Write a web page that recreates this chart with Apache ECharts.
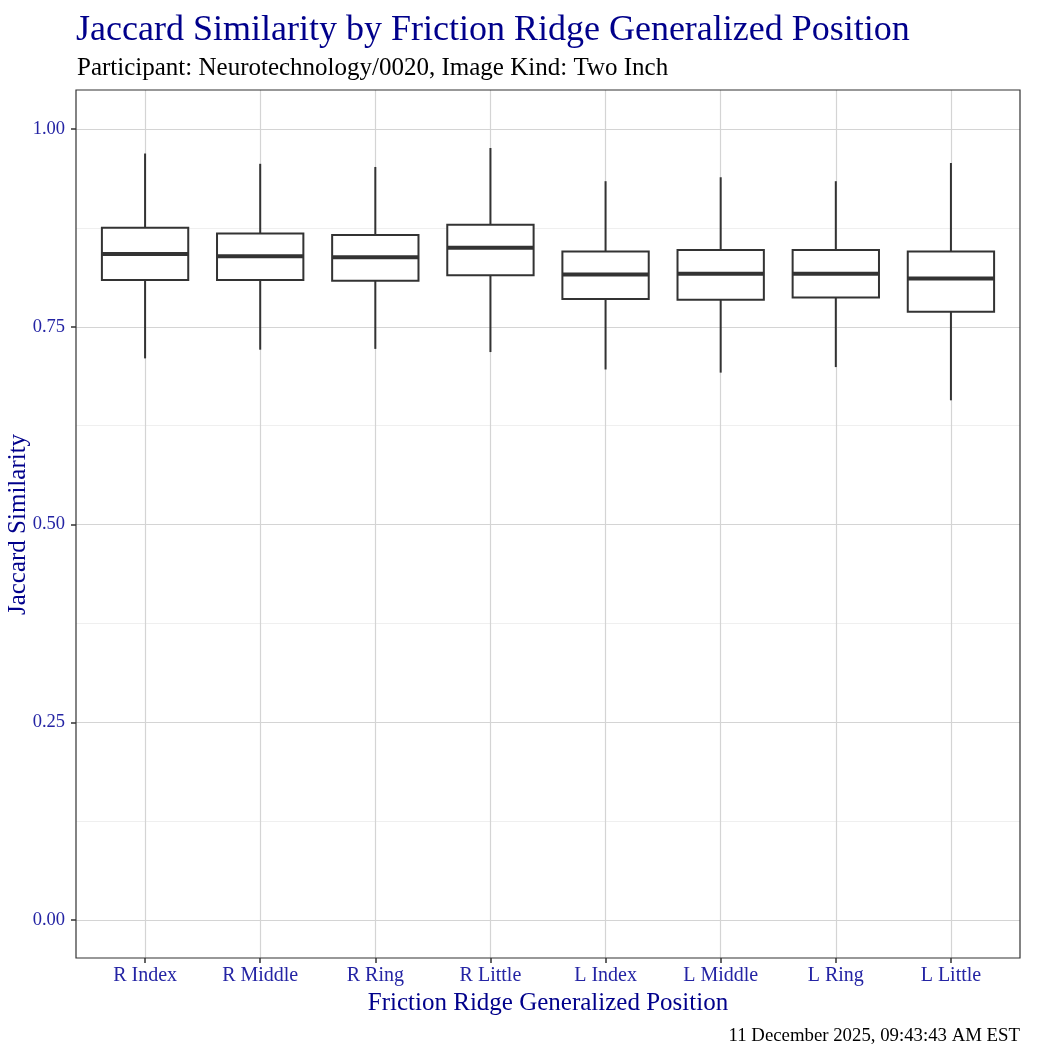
<!DOCTYPE html>
<html lang="en">
<head>
    <meta charset="UTF-8">
    <title>Jaccard Similarity</title>
    <script src="https://cdn.jsdelivr.net/npm/echarts@6/dist/echarts.min.js"></script>
    <style>
        html, body { margin: 0; padding: 0; background: #fff; }
        #chart { width: 1050px; height: 1050px; }
    </style>
</head>
<body>
    <div id="chart"></div>
    <script>
        // finger positions on the x axis
        const positions = ['R Index', 'R Middle', 'R Ring', 'R Little', 'L Index', 'L Middle', 'L Ring', 'L Little'];
        // box statistics
        const whiskerLow = [0.710, 0.721, 0.722, 0.718, 0.696, 0.692, 0.699, 0.657];
        const q1 = [0.809, 0.809, 0.808, 0.815, 0.785, 0.784, 0.787, 0.769];
        const median = [0.842, 0.839, 0.838, 0.850, 0.816, 0.817, 0.817, 0.811];
        const q3 = [0.875, 0.868, 0.866, 0.879, 0.845, 0.847, 0.847, 0.845];
        const whiskerHigh = [0.969, 0.956, 0.952, 0.976, 0.934, 0.939, 0.934, 0.957];
        const yTicks = [0, 0.25, 0.5, 0.75, 1];

        const font = "'Liberation Serif', 'DejaVu Serif', serif";
        const blue = '#00008B';
        const tickBlue = '#2424a4';

        const boxData = positions.map((p, i) => [i, whiskerLow[i], q1[i], median[i], q3[i], whiskerHigh[i]]);

        function renderBox(params, api) {
            const x = api.value(0);
            const lo = api.coord([x, api.value(1)]);
            const b1 = api.coord([x, api.value(2)]);
            const md = api.coord([x, api.value(3)]);
            const b3 = api.coord([x, api.value(4)]);
            const hi = api.coord([x, api.value(5)]);
            const w = api.size([1, 0])[0] * 0.75;
            const cx = lo[0];
            const stroke = { stroke: '#333333', lineWidth: 2 };
            return {
                type: 'group',
                children: [
                    { type: 'line', shape: { x1: cx, y1: hi[1], x2: cx, y2: b3[1] }, style: stroke },
                    { type: 'line', shape: { x1: cx, y1: b1[1], x2: cx, y2: lo[1] }, style: stroke },
                    { type: 'rect', shape: { x: cx - w / 2, y: b3[1], width: w, height: b1[1] - b3[1] },
                      style: { fill: '#ffffff', stroke: '#333333', lineWidth: 2 } },
                    { type: 'line', shape: { x1: cx - w / 2, y1: md[1], x2: cx + w / 2, y2: md[1] },
                      style: { stroke: '#333333', lineWidth: 4 } }
                ]
            };
        }

        const chart = echarts.init(document.getElementById('chart'));
        const option = {
            backgroundColor: '#ffffff',
            animation: false,
            title: [{
                text: 'Jaccard Similarity by Friction Ridge Generalized Position',
                left: 71, top: 8,
                textStyle: { fontFamily: font, fontWeight: 'normal', fontSize: 36, color: blue }
            }, {
                text: 'Participant: Neurotechnology/0020, Image Kind: Two Inch',
                left: 72, top: 51,
                textStyle: { fontFamily: font, fontWeight: 'normal', fontSize: 25, color: '#000' }
            }, {
                text: '11 December 2025, 09:43:43 AM EST',
                right: 25, top: 1022,
                textStyle: { fontFamily: font, fontWeight: 'normal', fontSize: 18.8, color: '#000' }
            }],
            grid: [
                // y scale: 0 -> 920px, 1 -> 129px
                { left: 76, right: 30, top: 129, bottom: 130, outerBoundsMode: 'none', containLabel: false },
                // boxes: full panel with ggplot's 0.6 discrete expansion
                { left: 87.51, right: 41.51, top: 90, bottom: 92, outerBoundsMode: 'none', containLabel: false }
            ],
            xAxis: [{
                gridIndex: 0, type: 'value', show: false, min: 0, max: 1
            }, {
                gridIndex: 1, type: 'category', data: positions,
                position: 'bottom',
                boundaryGap: true,
                axisLine: { show: false, onZero: false },
                axisTick: { show: true, alignWithLabel: true, length: 5, lineStyle: { color: '#333', width: 1.5 } },
                axisLabel: { fontFamily: font, fontSize: 20, color: tickBlue, margin: 8 },
                splitLine: { show: true, alignWithLabel: true, lineStyle: { color: '#d4d4d4', width: 1.2 } },
                name: 'Friction Ridge Generalized Position',
                nameLocation: 'middle', nameGap: 33, nameMoveOverlap: false,
                nameTextStyle: { fontFamily: font, fontSize: 25, color: blue }
            }],
            yAxis: [{
                gridIndex: 0, type: 'value', min: 0, max: 1, interval: 0.25,
                position: 'left',
                axisLine: { show: false, onZero: false },
                axisTick: { show: true, length: 5, lineStyle: { color: '#333', width: 1.5 } },
                axisLabel: {
                    fontFamily: font, fontSize: 18.5, color: tickBlue, margin: 11,
                    formatter: v => yTicks.includes(v) ? v.toFixed(2) : ''
                },
                splitLine: { show: true, lineStyle: { color: '#d4d4d4', width: 1.2 } },
                minorTick: { show: false, splitNumber: 2 },
                minorSplitLine: { show: true, lineStyle: { color: '#efefef', width: 1 } },
                name: 'Jaccard Similarity',
                nameLocation: 'middle', nameGap: 45, nameMoveOverlap: false,
                nameTextStyle: { fontFamily: font, fontSize: 25, color: blue }
            }, {
                gridIndex: 1, type: 'value', show: false,
                min: -0.04804, max: 1.04930
            }],
            series: [{
                type: 'custom',
                xAxisIndex: 1, yAxisIndex: 1,
                renderItem: renderBox,
                encode: { x: 0, y: [1, 2, 3, 4, 5] },
                data: boxData,
                z: 5
            }],
            graphic: [{
                type: 'rect', z: 100, silent: true,
                shape: { x: 76, y: 90, width: 944, height: 868 },
                style: { fill: 'none', stroke: '#333333', lineWidth: 1.2 }
            }]
        };
        chart.setOption(option);
    </script>
</body>
</html>
